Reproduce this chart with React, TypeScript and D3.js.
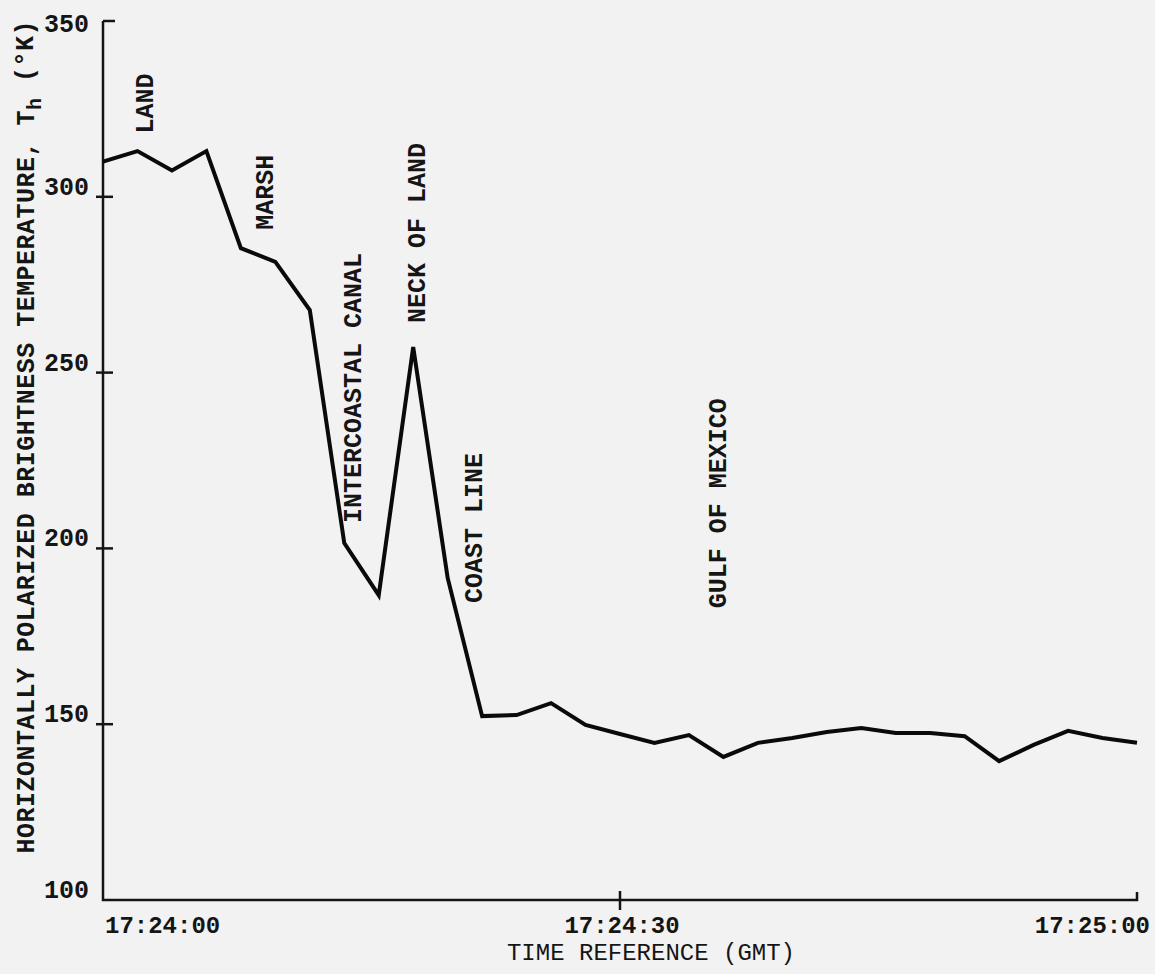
import React from "react";
import * as d3 from "d3";

// seconds after 17:24:00, sampled every 2 s
const seconds = [0, 2, 4, 6, 8, 10, 12, 14, 16, 18, 20, 22, 24, 26, 28, 30, 32, 34, 36, 38, 40, 42, 44, 46, 48, 50, 52, 54, 56, 58, 60];
const tempK = [310, 313, 307.5, 313, 285.4, 281.5, 267.8, 201.5, 186.7, 257.3, 191.6, 152.3, 152.6, 156, 149.8, 147.2, 144.7, 146.9, 140.7, 144.7, 146.1, 147.8, 148.9, 147.5, 147.5, 146.6, 139.5, 144.1, 148.1, 146.1, 144.7];

const yTicks = [100, 150, 200, 250, 300, 350];
const xTicks = [0, 30, 60];
const xTickLabels = ["17:24:00", "17:24:30", "17:25:00"];

// region annotations: text, time (s) and temperature where the text starts
const regionNames = ["LAND", "MARSH", "INTERCOASTAL CANAL", "NECK OF LAND", "COAST LINE", "GULF OF MEXICO"];
const regionTime = [2.45, 9.4, 14.5, 18.2, 21.5, 35.7];
const regionTemp = [318, 290.6, 207.2, 264.1, 184.5, 183];

const W = 1155;
const H = 974;
const font = "'Liberation Mono', 'DejaVu Sans Mono', monospace";

export default function App() {
  const x = d3.scaleLinear().domain([0, 60]).range([103, 1137]);
  const y = d3.scaleLinear().domain([100, 350]).range([900, 21]);

  const line = d3
    .line<number>()
    .x((_, i) => x(seconds[i]))
    .y((d) => y(d));

  const x0 = x(0);
  const yBase = y(100);

  return (
    <svg
      width={W}
      height={H}
      style={{ position: "absolute", left: 0, top: 0, background: "#f2f2f2" }}
      fontFamily={font}
      fontWeight="bold"
      fill="#151515"
    >
      {/* axes */}
      <path
        d={`M${x0},${y(350)}H${x0 + 12}M${x0},${y(350)}V${yBase}H${x(60)}V${yBase - 8}`}
        fill="none"
        stroke="#151515"
        strokeWidth={2.5}
      />
      {yTicks
        .filter((t) => t !== 100 && t !== 350)
        .map((t) => (
          <line key={t} x1={x0 - 7} x2={x0 + 10} y1={y(t)} y2={y(t)} stroke="#151515" strokeWidth={2.5} />
        ))}
      <line x1={x(30)} x2={x(30)} y1={yBase - 9} y2={yBase + 10} stroke="#151515" strokeWidth={2.5} />

      {yTicks.map((t) => (
        <text key={t} x={89} y={Math.max(y(t) - 2, 32)} textAnchor="end" fontSize={25}>
          {t}
        </text>
      ))}
      {xTicks.map((t, i) => (
        <text
          key={t}
          x={i === 0 ? x(t) + 2 : i === 1 ? x(t) + 2 : x(t) + 13}
          y={933}
          textAnchor={i === 0 ? "start" : i === 1 ? "middle" : "end"}
          fontSize={24}
        >
          {xTickLabels[i]}
        </text>
      ))}
      <text x={651} y={960} textAnchor="middle" fontSize={24} fontWeight="normal">
        TIME REFERENCE (GMT)
      </text>
      <text
        transform={`translate(26,437) rotate(-90)`}
        textAnchor="middle"
        dy="0.33em"
        fontSize={25}
        textLength={833}
        lengthAdjust="spacing"
      >
        HORIZONTALLY POLARIZED BRIGHTNESS TEMPERATURE, T<tspan fontSize={20} dy="0.35em">h</tspan>
        <tspan dy="-0.35em">{" "}(°K)</tspan>
      </text>

      {/* data line */}
      <path d={line(tempK) ?? ""} fill="none" stroke="#0a0a0a" strokeWidth={4} strokeLinejoin="miter" />

      {/* annotations */}
      {regionNames.map((name, i) => (
        <text
          key={name}
          transform={`translate(${x(regionTime[i])},${y(regionTemp[i])}) rotate(-90)`}
          dy="0.33em"
          fontSize={25}
        >
          {name}
        </text>
      ))}
    </svg>
  );
}
